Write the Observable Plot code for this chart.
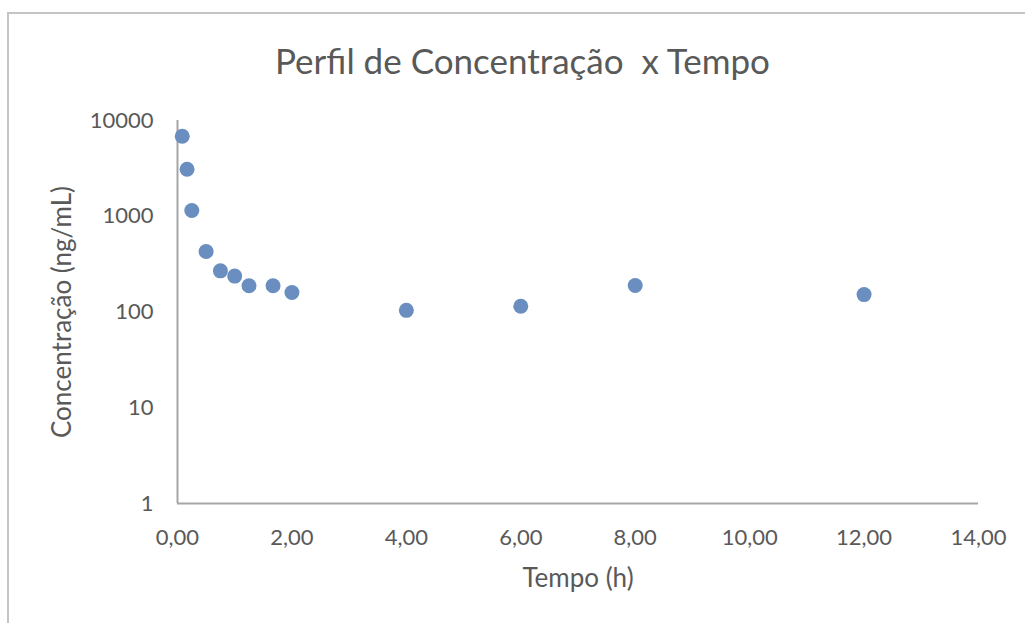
<!DOCTYPE html>
<html>
<head>
<meta charset="utf-8">
<script src="https://cdn.jsdelivr.net/npm/d3@7"></script>
<script src="https://cdn.jsdelivr.net/npm/@observablehq/plot@0.6"></script>
<style>
  html, body { margin: 0; padding: 0; background: #fff; width: 1025px; height: 623px; overflow: hidden; }
  #frame { position: absolute; left: 7px; top: 12px; width: 1030px; height: 640px;
           border-left: 2px solid #c4c4c4; border-top: 2px solid #c4c4c4; }
  #chart { position: absolute; left: 0; top: 0; }
</style>
</head>
<body>
<div id="frame"></div>
<div id="chart"></div>
<script>
const titleText = "Perfil de Concentração  x Tempo";
const xLabel = "Tempo (h)";
const yLabel = "Concentração (ng/mL)";
const tempo = [0.083, 0.167, 0.25, 0.5, 0.75, 1.0, 1.25, 1.67, 2.0, 4.0, 6.0, 8.0, 12.0];
const concentracao = [6850, 3100, 1150, 428, 269, 237, 188, 188, 160, 104, 115, 189, 152];
const xTicks = [0, 2, 4, 6, 8, 10, 12, 14];
const yTicks = [1, 10, 100, 1000, 10000];

const data = tempo.map((t, i) => ({t, c: concentracao[i]}));
const font = "Lato, 'Open Sans', sans-serif";
const textColor = "#595959";
const fmtX = d => d.toFixed(2).replace(".", ",");

const chart = Plot.plot({
  width: 1025,
  height: 623,
  marginLeft: 177,
  marginRight: 47,
  marginTop: 120,
  marginBottom: 120,
  style: {fontFamily: font, color: textColor, background: "transparent", overflow: "visible"},
  x: {domain: [0, 14]},
  y: {type: "log", domain: [1, 10000]},
  marks: [
    Plot.axisX(xTicks, {tickSize: 0, tickPadding: 26, tickFormat: fmtX, fontSize: 22, fill: textColor, label: null}),
    Plot.axisY(yTicks, {tickSize: 0, tickPadding: 24, tickFormat: d3.format("d"), fontSize: 22, fill: textColor, label: null}),
    Plot.ruleX([0], {stroke: "#a6a6a6", strokeWidth: 2}),
    Plot.ruleY([1], {stroke: "#a6a6a6", strokeWidth: 2}),
    Plot.dot(data, {x: "t", y: "c", r: 7.5, fill: "#6a8ebf", stroke: "none"}),
    Plot.text([titleText], {frameAnchor: "top-left", dx: 345, dy: -58, fontSize: 35, fill: textColor, textAnchor: "middle", lineAnchor: "middle"}),
    Plot.text([xLabel], {frameAnchor: "bottom", dy: 75, fontSize: 26, fill: textColor, textAnchor: "middle", lineAnchor: "middle"}),
    Plot.text([yLabel], {frameAnchor: "left", dx: -115, rotate: -90, fontSize: 26, fill: textColor, textAnchor: "middle", lineAnchor: "middle"})
  ]
});
document.getElementById("chart").appendChild(chart);
</script>
</body>
</html>
